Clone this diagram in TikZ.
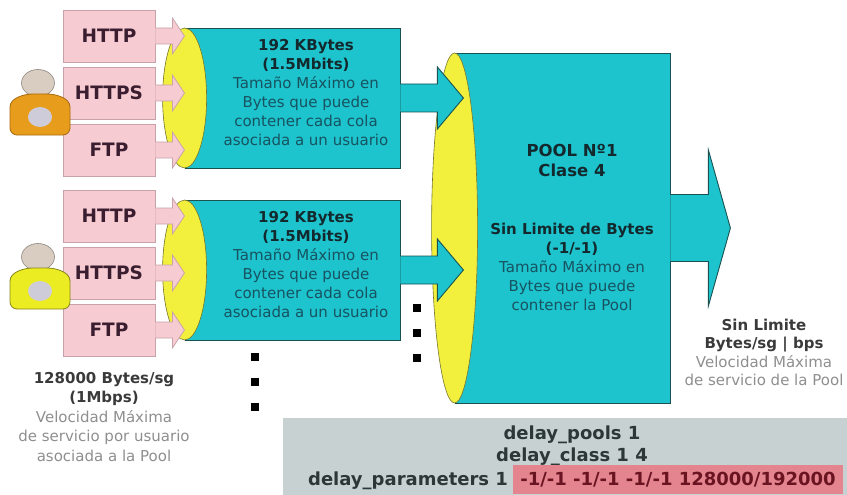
\documentclass[tikz,border=0pt]{standalone}
\usepackage{fontspec}
\setmainfont{DejaVu Sans}
\usetikzlibrary{positioning}
\definecolor{tankcyan}{HTML}{1DC3CD}
\definecolor{tankedge}{HTML}{1A5252}
\definecolor{mouthyellow}{HTML}{F2F03C}
\definecolor{mouthedge}{HTML}{76762E}
\definecolor{protopink}{HTML}{F7CBD2}
\definecolor{protoedge}{HTML}{C7A2A9}
\definecolor{prototext}{HTML}{3A1E30}
\definecolor{titledark}{HTML}{13292D}
\definecolor{tealtext}{HTML}{175360}
\definecolor{notedark}{HTML}{3A3A3A}
\definecolor{notegray}{HTML}{8E8E8E}
\definecolor{confgray}{HTML}{C8D1D1}
\definecolor{confred}{HTML}{E4848E}
\definecolor{confdark}{HTML}{2C3838}
\definecolor{confvalue}{HTML}{6A1422}
\definecolor{userhead}{HTML}{D9CDC1}
\definecolor{userheadedge}{HTML}{8C8680}
\definecolor{userpatch}{HTML}{CFCCDA}
\definecolor{userorange}{HTML}{E89C1C}
\definecolor{userorangeedge}{HTML}{A8690E}
\definecolor{useryellow}{HTML}{ECEC22}
\definecolor{useryellowedge}{HTML}{85851C}

\begin{document}
\begin{tikzpicture}[x=1pt,y=-1pt,font=\fontsize{15}{19}\selectfont,
  protobox/.style={fill=protopink,draw=protoedge,line width=0.8pt,minimum width=92pt,minimum height=52pt,inner sep=0pt,font=\fontsize{18.5}{20}\selectfont\bfseries,text=prototext},
  protoarrow/.style={fill=protopink,draw=protoedge,line width=0.8pt},
  tank/.style={fill=tankcyan,draw=tankedge,line width=0.8pt,inner sep=0pt},
  mouth/.style={fill=mouthyellow,draw=mouthedge,line width=0.6pt},
  flow/.style={fill=tankcyan,draw=tankedge,line width=0.9pt},
  dot/.style={fill=black,minimum size=8pt,inner sep=0pt},
  note/.style={align=center,text=notegray},
  conf/.style={font=\fontsize{18}{22}\selectfont\bfseries,text=confdark}]
\useasboundingbox (0,0) rectangle (847,495);

\node[tank,minimum width=215pt,minimum height=350pt] (pool) at (562.5,228) {};
\draw[mouth] (pool.west) ellipse [x radius=23,y radius=175];
\draw[flow] (pool.east) ++(0,-33.5) -- ++(38,0) -- ++(0,-44.5) -- ++(22,78) -- ++(-22,78) -- ++(0,-44.5) -- ++(-38,0);
\node[align=center,font=\fontsize{16.5}{20}\selectfont\bfseries,text=titledark] (pooltitle) at (572,160) {POOL Nº1\\Clase 4};
\node[align=center,text=tealtext] (poolsize) at (572,266.5) {\textbf{\textcolor{titledark}{Sin Limite de Bytes}}\\\textbf{\textcolor{titledark}{(-1/-1)}}\\Tamaño Máximo en\\Bytes que puede\\contener la Pool};

\foreach \g/\py/\qy/\uy/\skin/\skinedge in {1/93/98/104/userorange/userorangeedge,2/273/270/278/useryellow/useryellowedge}{
  \node[tank,minimum width=215pt,minimum height=140pt] (q\g) at (292.5,\qy) {};
  \draw[mouth] (q\g.west) ellipse [x radius=22,y radius=70];
  \node[align=center,text=tealtext] (qt\g) at (306,\qy-5) {\textbf{\textcolor{titledark}{192 KBytes}}\\\textbf{\textcolor{titledark}{(1.5Mbits)}}\\Tamaño Máximo en\\Bytes que puede\\contener cada cola\\asociada a un usuario};
  \draw[flow] (q\g.east) ++(0,-14) -- ++(37,0) -- ++(0,-17) -- ++(26,31) -- ++(-26,31) -- ++(0,-17) -- ++(-37,0);
  \foreach \lbl [count=\k] in {HTTP,HTTPS,FTP}{
    \node[protobox] (p\g\k) at (109,{\py+57*(\k-2)}) {\lbl};
    \draw[protoarrow] (p\g\k.east) ++(0,-8) -- ++(17,0) -- ++(0,-10) -- ++(12,18) -- ++(-12,18) -- ++(0,-10) -- ++(-17,0);
  }
  \begin{scope}[shift={(40,\uy)}]
    \draw[fill=userhead,draw=userheadedge,line width=0.6pt] (-2,-21) ellipse [x radius=16.5,y radius=13.5];
    \draw[fill=\skin,draw=\skinedge,line width=0.8pt,rounded corners=7pt] (-30,31) -- (-30,10) .. controls (-30,-6) and (-16,-10) .. (0,-10) .. controls (16,-10) and (30,-6) .. (30,10) -- (30,31) -- cycle;
    \fill[userpatch] (0,13) ellipse [x radius=12,y radius=10];
  \end{scope}
}

\foreach \k in {1,2,3}{
  \node[dot] (da\k) at (255,{357+25*(\k-1)}) {};
  \node[dot] (db\k) at (417,{308+25*(\k-1)}) {};
}

\node[note,font=\fontsize{15}{19.5}\selectfont] (usernote) at (104,417) {\textbf{\textcolor{notedark}{128000 Bytes/sg}}\\\textbf{\textcolor{notedark}{(1Mbps)}}\\Velocidad Máxima\\de servicio por usuario\\asociada a la Pool};
\node[note,font=\fontsize{15}{18.5}\selectfont] (poolnote) at (764,352.5) {\textbf{\textcolor{notedark}{Sin Limite}}\\\textbf{\textcolor{notedark}{Bytes/sg | bps}}\\Velocidad Máxima\\de servicio de la Pool};

\node[fill=confgray,minimum width=564pt,minimum height=77pt,inner sep=0pt] (confbox) at (565,456.5) {};
\node[conf] (dpools) at (572,435) {delay\_pools 1};
\node[conf] (dclass) at (572,457) {delay\_class 1 4};
\node[conf,fill=confred,text=confvalue,minimum height=29pt,inner xsep=7pt,inner ysep=0pt] (dvals) at (678,479.5) {-1/-1 -1/-1 -1/-1 128000/192000};
\node[conf,anchor=base east,inner sep=0pt] (dparams) at ([xshift=-5pt]dvals.base west) {delay\_parameters 1};
\end{tikzpicture}
\end{document}
